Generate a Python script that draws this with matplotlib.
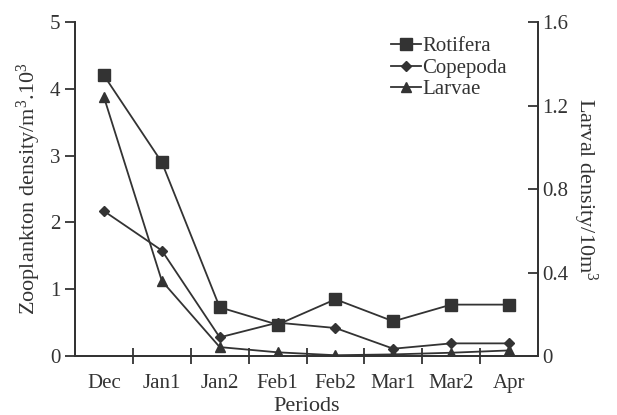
import matplotlib
matplotlib.use("Agg")
import matplotlib.pyplot as plt
from matplotlib.ticker import FixedLocator

plt.rcParams['font.family'] = ['Liberation Serif', 'DejaVu Serif']
plt.rcParams['mathtext.fontset'] = 'custom'
plt.rcParams['mathtext.rm'] = 'Liberation Serif'
plt.rcParams['mathtext.it'] = 'Liberation Serif:italic'
plt.rcParams['mathtext.bf'] = 'Liberation Serif:bold'

periods = ["Dec", "Jan1", "Jan2", "Feb1", "Feb2", "Mar1", "Mar2", "Apr"]
rotifera = [4.2, 2.9, 0.73, 0.47, 0.85, 0.52, 0.77, 0.77]
copepoda = [2.17, 1.58, 0.28, 0.50, 0.42, 0.11, 0.19, 0.19]
larvae = [1.24, 0.36, 0.043, 0.018, 0.004, 0.008, 0.016, 0.027]

col = '#333333'
fig = plt.figure(figsize=(6.17, 4.15), dpi=100)
ax = fig.add_axes([0.1216, 0.142, 0.7504, 0.805])
ax2 = ax.twinx()

x = list(range(len(periods)))
l1, = ax.plot(x, rotifera, color=col, lw=1.3, marker='s', ms=9, label='Rotifera')
l2, = ax.plot(x, copepoda, color=col, lw=1.3, marker='D', ms=5, label='Copepoda')
l3, = ax2.plot(x, larvae, color=col, lw=1.3, marker='^', ms=7, label='Larvae')

ax.set_xlim(-0.5, 7.5)
ax.set_ylim(0, 5)
ax2.set_ylim(0, 1.6)
ax.set_xticks(x)
ax.set_xticklabels(periods, fontsize=15, color=col)
ax.xaxis.set_minor_locator(FixedLocator([i + 0.5 for i in range(7)]))
ax.tick_params(axis='x', which='major', length=0, pad=13)
ax.tick_params(axis='x', which='minor', direction='inout', length=12, width=1.3, color=col)
ax.set_yticks([0, 1, 2, 3, 4, 5])
ax.tick_params(axis='y', direction='out', length=7, width=1.3, labelsize=15, colors=col)
ax2.set_yticks([0, 0.4, 0.8, 1.2, 1.6])
ax2.set_yticklabels(['0', '0.4', '0.8', '1.2', '1.6'])
ax2.tick_params(axis='y', direction='in', length=7, width=1.3, labelsize=15, colors=col, pad=3)

for a in (ax, ax2):
    a.spines['top'].set_visible(False)
    for s in ('left', 'right', 'bottom'):
        a.spines[s].set_linewidth(1.3)
        a.spines[s].set_color(col)

ax.set_xlabel('Periods', fontsize=16, color=col, labelpad=3)
ax.set_ylabel('Zooplankton density/m$^3$.10$^3$', fontsize=16, color=col, labelpad=5)
ax2.set_ylabel('Larval density/10m$^3$', fontsize=16, color=col, rotation=270, labelpad=22)

leg = ax.legend(handles=[l1, l2, l3], loc='upper right', bbox_to_anchor=(0.965, 1.0),
                frameon=False, fontsize=15, handlelength=1.4, handletextpad=0.1,
                labelspacing=0.1, borderaxespad=0.3)
for t in leg.get_texts():
    t.set_color(col)

fig.savefig('out.png', dpi=100)
